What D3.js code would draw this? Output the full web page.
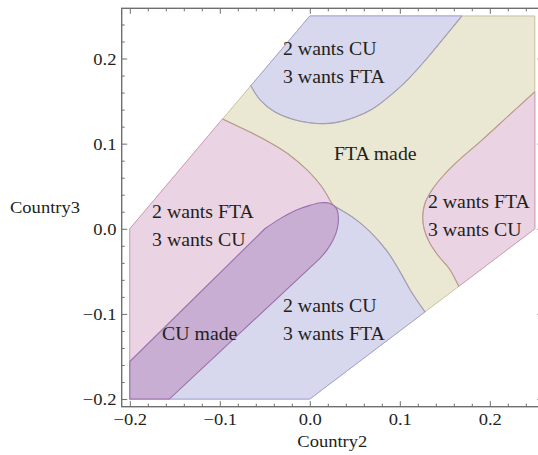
<!DOCTYPE html>
<html>
<head>
<meta charset="utf-8">
<script src="https://cdn.jsdelivr.net/npm/d3@7"></script>
<style>
  html, body { margin: 0; padding: 0; background: #fff; }
  svg { display: block; }
  text { font-family: "Liberation Serif", "Times New Roman", serif; fill: #231f20; }
</style>
</head>
<body>
<svg id="chart" width="538" height="455"></svg>
<script>
// ---- Region outlines, in (Country2, Country3) coordinates ----
// Outer hull of the parameter region
const outerHull = [[-0.2, -0.2], [0.0, -0.2], [0.25, 0.0], [0.25, 0.25], [0.0, 0.25], [-0.2, 0.0]];
// Upper blue region / FTA boundary, from the upper-left edge to the top edge
const topBlueEdge = [[-0.0655, 0.168], [-0.055, 0.151], [-0.04, 0.138], [-0.02, 0.129], [0.0, 0.1245],
  [0.015, 0.1235], [0.03, 0.125], [0.05, 0.131], [0.07, 0.141], [0.09, 0.157], [0.11, 0.1765],
  [0.13, 0.2], [0.15, 0.2255], [0.169, 0.25]];
// Right pink region / FTA boundary, from the right edge to the lower-right edge
const rightPinkEdge = [[0.25, 0.161], [0.22, 0.132], [0.19, 0.103], [0.165, 0.08], [0.148, 0.062],
  [0.136, 0.046], [0.128, 0.03], [0.1255, 0.015], [0.127, 0.0], [0.133, -0.016], [0.143, -0.032],
  [0.155, -0.047], [0.1655, -0.0676]];
// Left pink region / FTA boundary, from the upper-left edge to the meeting point
const leftPinkEdge = [[-0.097, 0.129], [-0.0722, 0.1165], [-0.05, 0.1047], [-0.0244, 0.0882],
  [-0.0022, 0.0682], [0.0133, 0.0494], [0.0256, 0.0282], [0.027, 0.027]];
// Lower blue region / FTA boundary, from the lower-right edge to the meeting point
const bottomBlueEdge = [[0.128, -0.0976], [0.1122, -0.073], [0.1, -0.05], [0.0856, -0.0259],
  [0.0665, -0.003], [0.049, 0.0125], [0.03, 0.025], [0.027, 0.027]];
// CU band: straight sides and a rounded tip
const cuUpperEdge = [[-0.2, -0.156], [-0.05, 0.0]];
const cuTip = [[-0.032, 0.0125], [-0.016, 0.0215], [0.0, 0.0275], [0.012, 0.0305], [0.022, 0.03],
  [0.0295, 0.024], [0.0318, 0.013], [0.0305, 0.0], [0.026, -0.013], [0.019, -0.025]];
const cuLowerEdge = [[0.011, -0.035], [-0.156, -0.2]];

// Axis ticks
const xTicks = [-0.2, -0.1, 0.0, 0.1, 0.2];
const yTicks = [-0.2, -0.1, 0.0, 0.1, 0.2];
const minorTicks = [-0.18, -0.16, -0.14, -0.12, -0.08, -0.06, -0.04, -0.02,
  0.02, 0.04, 0.06, 0.08, 0.12, 0.14, 0.16, 0.18, 0.22, 0.24];
const xTitle = "Country2";
const yTitle = "Country3";

// Region names, one list of lines per region
const regionNames = [
  ["2 wants CU", "3 wants FTA"],
  ["FTA made"],
  ["2 wants FTA", "3 wants CU"],
  ["2 wants FTA", "3 wants CU"],
  ["2 wants CU", "3 wants FTA"],
  ["CU made"]
];

// ---- Layout ----
const frame = { left: 121.7, right: 542.9, top: 8.3, bottom: 406.7 };
const X = d3.scaleLinear().domain([-0.209, 0.259]).range([frame.left, frame.right]);
const Y = d3.scaleLinear().domain([-0.209, 0.259]).range([frame.bottom, frame.top]);

// label anchors (left end of first baseline) in plot units
const nameAnchors = [[-0.0298, 0.2042], [0.0269, 0.0808], [-0.1753, 0.0127],
  [0.1313, 0.0244], [-0.0298, -0.0977], [-0.1642, -0.1306]];
const lineGap = 28;
const stretch = 1.06;

const colors = {
  pink: "#ead3e2", pinkEdge: "#d09fbf",
  blue: "#d7d7ee", blueEdge: "#a5a5d2",
  fta: "#eae7d3", ftaEdge: "#c9c19c",
  pinkFta: "#b89e8a", blueFta: "#a99fac",
  cu: "#c7aed2", cuEdge: "#9a70ac"
};

const svg = d3.select("#chart");
const straight = d3.line().x(d => X(d[0])).y(d => Y(d[1]));
const smooth = d3.line().x(d => X(d[0])).y(d => Y(d[1])).curve(d3.curveCatmullRom.alpha(0.5));
const cont = s => s.replace(/^M/, "L");

const plot = svg.append("g");

// FTA region fills the whole hull underneath
plot.append("path")
  .attr("d", straight(outerHull) + "Z")
  .attr("fill", colors.fta).attr("stroke", colors.ftaEdge).attr("stroke-width", 1);

// Left pink region
plot.append("path")
  .attr("d", smooth(leftPinkEdge) + cont(straight([[-0.2, -0.2], [-0.2, 0.0]])) + "Z")
  .attr("fill", colors.pink).attr("stroke", colors.pinkEdge).attr("stroke-width", 1);

// Lower blue region
plot.append("path")
  .attr("d", smooth(bottomBlueEdge) + cont(straight([[-0.2, -0.2], [0.0, -0.2]])) + "Z")
  .attr("fill", colors.blue).attr("stroke", colors.blueEdge).attr("stroke-width", 1);

// Upper blue region
plot.append("path")
  .attr("d", smooth(topBlueEdge) + cont(straight([[0.0, 0.25]])) + "Z")
  .attr("fill", colors.blue).attr("stroke", colors.blueEdge).attr("stroke-width", 1);

// Right pink region
plot.append("path")
  .attr("d", smooth(rightPinkEdge) + cont(straight([[0.25, 0.0]])) + "Z")
  .attr("fill", colors.pink).attr("stroke", colors.pinkEdge).attr("stroke-width", 1);

// Boundaries against the FTA region
[[leftPinkEdge, colors.pinkFta], [rightPinkEdge, colors.pinkFta],
 [topBlueEdge, colors.blueFta], [bottomBlueEdge, colors.blueFta]].forEach(([pts, c]) => {
  plot.append("path").attr("d", smooth(pts)).attr("fill", "none")
    .attr("stroke", c).attr("stroke-width", 1.1);
});

// CU band on top
const cuPath = straight([[-0.2, -0.2], ...cuUpperEdge])
  + cont(smooth([cuUpperEdge[1], ...cuTip, cuLowerEdge[0]]))
  + cont(straight(cuLowerEdge)) + "Z";
plot.append("path").attr("d", cuPath)
  .attr("fill", colors.cu).attr("stroke", colors.cuEdge).attr("stroke-width", 1.1);

// ---- Frame and ticks ----
const fmt = d3.format(".1f");
const axisColor = "#6f6f6f";
const tickFont = 17.5;
function styleAxis(g) {
  g.select(".domain").remove();
  g.selectAll("line").attr("stroke", axisColor).attr("stroke-width", 1);
}
function addTicks(axisFn, pos, values, size, labelled, pad) {
  const g = svg.append("g").attr("transform", pos)
    .call(axisFn.tickValues(values).tickFormat(labelled ? fmt : "")
      .tickSizeInner(-size).tickSizeOuter(0).tickPadding(pad || 3));
  g.call(styleAxis);
  if (labelled) {
    g.selectAll("text").attr("font-size", tickFont).attr("font-family", null)
      .attr("transform", `scale(${stretch},1)`);
  }
  return g;
}
const atBottom = `translate(0,${frame.bottom})`, atTop = `translate(0,${frame.top})`;
const atLeft = `translate(${frame.left},0)`, atRight = `translate(${frame.right},0)`;

addTicks(d3.axisBottom(X), atBottom, xTicks, 5.5, true, 6);
addTicks(d3.axisBottom(X), atBottom, minorTicks, 3, false);
addTicks(d3.axisTop(X), atTop, xTicks, 5.5, false);
addTicks(d3.axisTop(X), atTop, minorTicks, 3, false);
addTicks(d3.axisLeft(Y), atLeft, yTicks, 5.5, true, 5);
addTicks(d3.axisLeft(Y), atLeft, minorTicks, 3, false);
addTicks(d3.axisRight(Y), atRight, yTicks, 5.5, false);
addTicks(d3.axisRight(Y), atRight, minorTicks, 3, false);

svg.append("rect")
  .attr("x", frame.left).attr("y", frame.top)
  .attr("width", frame.right - frame.left).attr("height", frame.bottom - frame.top)
  .attr("fill", "none").attr("stroke", axisColor).attr("stroke-width", 1.4);

// ---- Axis titles ----
svg.append("text")
  .attr("transform", `translate(${(frame.left + frame.right) / 2},447) scale(${stretch},1)`)
  .attr("text-anchor", "middle").attr("font-size", tickFont).text(xTitle);
svg.append("text")
  .attr("transform", `translate(45,213) scale(${stretch},1)`)
  .attr("text-anchor", "middle").attr("font-size", tickFont).text(yTitle);

// ---- Region names ----
const names = svg.append("g");
regionNames.forEach((lines, i) => {
  const [ax, ay] = nameAnchors[i];
  lines.forEach((t, j) => {
    names.append("text")
      .attr("transform", `translate(${X(ax)},${Y(ay) + j * lineGap}) scale(${stretch},1)`)
      .attr("font-size", 18.7).text(t);
  });
});
</script>
</body>
</html>
